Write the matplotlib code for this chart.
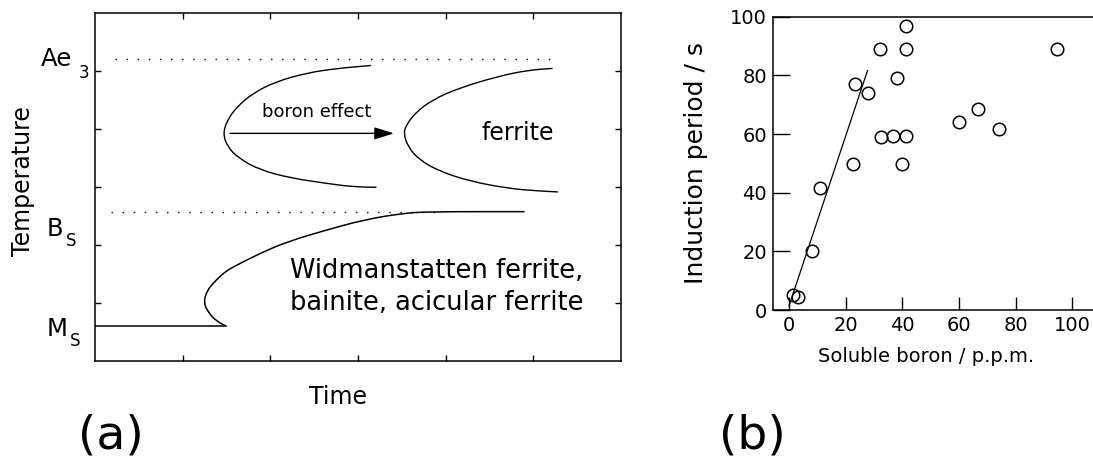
import matplotlib
matplotlib.use('Agg')
import matplotlib.pyplot as plt
from matplotlib.path import Path
from matplotlib.patches import PathPatch

# ---- (a) schematic TTT diagram, axes in arbitrary units 0..6 ----
# ferrite C-curve without boron
ferrite_t = [3.15, 2.76, 2.41, 2.06, 1.80, 1.62, 1.51, 1.46, 1.51, 1.64, 1.88, 2.23, 2.63, 2.93, 3.21]
ferrite_T = [5.10, 5.05, 4.97, 4.82, 4.62, 4.39, 4.16, 3.93, 3.70, 3.50, 3.30, 3.16, 3.07, 3.01, 3.00]
# ferrite C-curve with boron (shifted to longer times)
ferrite_b_t = [5.22, 4.94, 4.59, 4.15, 3.85, 3.65, 3.55, 3.52, 3.57, 3.70, 3.94, 4.29, 4.72, 5.03, 5.28]
ferrite_b_T = [5.05, 5.02, 4.91, 4.71, 4.51, 4.28, 4.07, 3.93, 3.70, 3.47, 3.27, 3.10, 2.98, 2.94, 2.92]
# bainite / Widmanstatten curve, ending on the Ms line
bainite_t = [4.90, 3.81, 3.50, 3.07, 2.63, 2.19, 1.88, 1.58, 1.49, 1.36, 1.27, 1.24, 1.30, 1.38, 1.49]
bainite_T = [2.58, 2.58, 2.55, 2.44, 2.26, 2.06, 1.86, 1.63, 1.55, 1.37, 1.20, 1.00, 0.83, 0.70, 0.61]
ms_level = 0.61
ms_span = [0.0, 1.49]
ae3_level = 5.22
bs_level = 2.58
ae3_span = [0.23, 5.22]
bs_span = [0.18, 3.93]
arrow_from = (1.54, 3.93)
arrow_to = (3.41, 3.93)

# ---- (b) induction period vs soluble boron ----
boron_ppm = [1.5, 3.3, 8.2, 11.1, 22.6, 23.4, 27.9, 32.0, 32.4, 36.7, 38.2, 39.9, 41.4, 41.4, 41.4, 60.1, 66.6, 74.2, 94.7]
induction_s = [5.1, 4.3, 20.2, 41.5, 49.7, 76.9, 73.9, 89.0, 59.1, 59.4, 79.0, 49.7, 59.4, 89.0, 96.9, 64.0, 68.4, 61.6, 89.0]
fit_ppm = [0.0, 27.7]
fit_s = [1.4, 81.6]
b_xticks = [0, 20, 40, 60, 80, 100]
b_yticks = [0, 20, 40, 60, 80, 100]

W, H = 1093, 465


def px_rect(l, t, r, b):
    return [l / W, 1 - b / H, (r - l) / W, (b - t) / H]


def fx(x):
    return x / W


def fy(y):
    return 1 - y / H


def smooth_curve(ax, xs, ys, lw):
    # quadratic bezier through the midpoints, read points used as control points
    pts = list(zip(xs, ys))
    verts = [pts[0], ((pts[0][0] + pts[1][0]) / 2, (pts[0][1] + pts[1][1]) / 2)]
    codes = [Path.MOVETO, Path.LINETO]
    for i in range(1, len(pts) - 1):
        mid = ((pts[i][0] + pts[i + 1][0]) / 2, (pts[i][1] + pts[i + 1][1]) / 2)
        verts += [pts[i], mid]
        codes += [Path.CURVE3, Path.CURVE3]
    verts.append(pts[-1])
    codes.append(Path.LINETO)
    ax.add_patch(PathPatch(Path(verts, codes), facecolor='none', edgecolor='black', lw=lw))


fig = plt.figure(figsize=(W / 100, H / 100), dpi=100)

# ---------------- panel (a) ----------------
ax = fig.add_axes(px_rect(95, 13.3, 621, 361.3))
ax.set_xlim(0, 6)
ax.set_ylim(0, 6)
ax.set_xticks([1, 2, 3, 4, 5])
ax.set_yticks([1, 2, 3, 4, 5])
ax.tick_params(direction='in', length=4, width=1.0, top=True, right=True,
               labelbottom=False, labelleft=False)
for s in ax.spines.values():
    s.set_linewidth(1.1)

smooth_curve(ax, ferrite_t, ferrite_T, 1.0)
smooth_curve(ax, ferrite_b_t, ferrite_b_T, 1.0)
smooth_curve(ax, bainite_t, bainite_T, 1.1)
ax.plot(ms_span, [ms_level, ms_level], color='black', lw=1.1)
ax.plot(ae3_span, [ae3_level, ae3_level], color='black', lw=1.0, ls=(0, (1, 7)))
ax.plot(bs_span, [bs_level, bs_level], color='black', lw=1.0, ls=(0, (1, 7)))
ax.annotate('', xy=arrow_to, xytext=arrow_from,
            arrowprops=dict(arrowstyle='-|>,head_length=0.8,head_width=0.25',
                            mutation_scale=15, color='black', lw=1.0,
                            shrinkA=0, shrinkB=0))

ax.text(2.53, 4.30, 'boron effect', ha='center', va='center', fontsize=13)
ax.text(4.82, 3.93, 'ferrite', ha='center', va='center', fontsize=17)
ax.text(2.22, 1.55, 'Widmanstatten ferrite,', ha='left', va='center', fontsize=18.5)
ax.text(2.22, 1.00, 'bainite, acicular ferrite', ha='left', va='center', fontsize=18.5)

# level labels left of the box
fig.text(fx(41), fy(66), 'Ae', ha='left', va='baseline', fontsize=17.5)
fig.text(fx(79), fy(78), '3', ha='left', va='baseline', fontsize=12)
fig.text(fx(47), fy(236), 'B', ha='left', va='baseline', fontsize=17.5)
fig.text(fx(66), fy(246), 'S', ha='left', va='baseline', fontsize=12)
fig.text(fx(47), fy(336), 'M', ha='left', va='baseline', fontsize=17.5)
fig.text(fx(70), fy(346), 'S', ha='left', va='baseline', fontsize=12)

fig.text(fx(23), fy(181), 'Temperature', rotation=90, ha='center', va='center', fontsize=17)
fig.text(fx(338), fy(397), 'Time', ha='center', va='center', fontsize=17)
fig.text(fx(111), fy(436), '(a)', ha='center', va='center', fontsize=34)

# ---------------- panel (b) ----------------
bx = fig.add_axes(px_rect(772.7, 16.7, 1093, 310))
bx.set_xlim(-5.75, 107.3)
bx.set_ylim(0, 100)
bx.spines['right'].set_visible(False)
for s in bx.spines.values():
    s.set_linewidth(1.1)
bx.set_xticks(b_xticks)
bx.set_yticks(b_yticks)
bx.tick_params(axis='x', direction='in', length=9.5, width=1.0, pad=4, labelsize=14)
bx.tick_params(axis='y', direction='in', length=12, width=1.0, pad=4, labelsize=14)

bx.plot(fit_ppm, fit_s, color='black', lw=0.9)
bx.plot(boron_ppm, induction_s, ls='none', marker='o', markersize=9,
        markerfacecolor='none', markeredgecolor='black', markeredgewidth=1.1)

fig.text(fx(696), fy(163), 'Induction period / s', rotation=90, ha='center', va='center', fontsize=18)
fig.text(fx(926), fy(356), 'Soluble boron / p.p.m.', ha='center', va='center', fontsize=14)
fig.text(fx(752), fy(436), '(b)', ha='center', va='center', fontsize=34)

fig.savefig('out.png', dpi=100)
